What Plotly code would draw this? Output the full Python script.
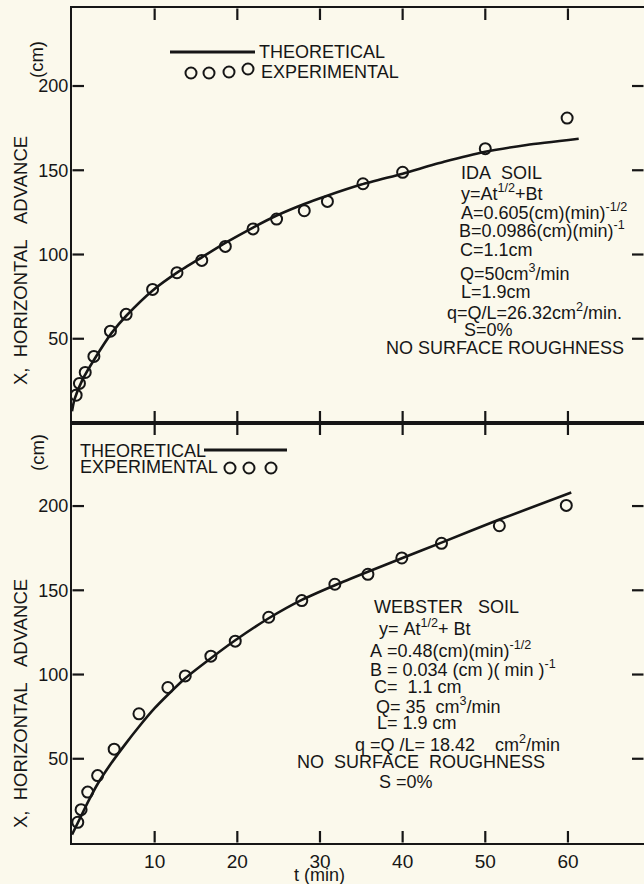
import plotly.graph_objects as go

# ---------------- data ----------------
# Top panel: IDA soil
ida_exp_t = [0.5, 0.9, 1.6, 2.65, 4.65, 6.55, 9.75, 12.7, 15.7, 18.55, 21.9, 24.75, 28.1, 30.9, 35.2, 40.0, 50.0, 59.9]
ida_exp_x = [16.5, 23.5, 30.0, 39.5, 54.5, 64.5, 79.3, 89.2, 96.5, 104.8, 115.2, 121.0, 126.0, 131.5, 142.0, 148.8, 162.8, 181.0]
ida_theo_t = [0, 0.3, 1.3, 2.8, 4.8, 6.6, 9.8, 12.8, 15.8, 18.6, 21.9, 24.7, 28.1, 30.7, 35.0, 40.0, 45.0, 50.0, 55.0, 61.3]
ida_theo_x = [7, 14, 26, 38.6, 53.5, 63.8, 78.8, 89.5, 98.6, 107, 116, 123, 130, 134.6, 141.5, 148, 155, 161, 165, 168.7]

# Bottom panel: WEBSTER soil
web_exp_t = [0.7, 1.1, 1.9, 3.1, 5.1, 8.1, 11.6, 13.7, 16.8, 19.75, 23.8, 27.8, 31.8, 35.8, 39.9, 44.7, 51.7, 59.8]
web_exp_x = [12.3, 19.8, 30.2, 40.0, 55.7, 76.7, 92.3, 99.2, 110.9, 119.8, 134.0, 143.9, 153.6, 159.5, 169.2, 177.9, 188.3, 200.4]
web_theo_t = [0, 1, 2, 3.1, 4.7, 6.5, 8.1, 10, 11.6, 13.7, 16.8, 19.8, 23.8, 27.8, 31.8, 35.8, 39.9, 44.7, 51.7, 60.4]
web_theo_x = [5, 15, 25, 35, 47, 59, 69, 80, 88, 97.8, 109.7, 120.5, 133.4, 144.3, 153, 161, 169, 178.3, 192, 208]

x_tick_vals = [10, 20, 30, 40, 50, 60]
x_tick_text = ["10", "20", "30", "40", "50", "60"]
y_tick_vals = [50, 100, 150, 200]
y_tick_text = ["50", "100", "150", "200"]

ida_notes = ["IDA\u00a0\u00a0SOIL", "y=At<sup>1/2</sup>+Bt", "A=0.605(cm)(min)<sup>-1/2</sup>",
             "B=0.0986(cm)(min)<sup>-1</sup>", "C=1.1cm", "Q=50cm<sup>3</sup>/min", "L=1.9cm",
             "q=Q/L=26.32cm<sup>2</sup>/min.", "S=0%", "NO SURFACE ROUGHNESS"]
web_notes = ["WEBSTER\u00a0\u00a0\u00a0SOIL", "y=\u00a0At<sup>1/2</sup>+\u00a0Bt", "A\u00a0=0.48(cm)(min)<sup>-1/2</sup>",
             "B\u00a0=\u00a00.034\u00a0(cm\u00a0)(\u00a0min\u00a0)<sup>-1</sup>", "C=\u00a0\u00a01.1\u00a0cm",
             "Q=\u00a035\u00a0\u00a0cm<sup>3</sup>/min", "L=\u00a01.9\u00a0cm",
             "q\u00a0=Q\u00a0/L=\u00a018.42\u00a0\u00a0\u00a0\u00a0cm<sup>2</sup>/min",
             "NO\u00a0\u00a0SURFACE\u00a0\u00a0ROUGHNESS", "S\u00a0=0%"]

# ---------------- layout geometry ----------------
W, H = 644, 884
ML, MR, MT, MB = 72, 0, 8, 41
PW, PH = W - ML - MR, H - MT - MB
X_RANGE = [0, 69.2]
Y_RANGE_TOP = [0, 246.3]
Y_RANGE_BOT = [0, 249.3]
SPLIT_PX = 423
TICK_LEN = 12  # pixels

def fx(px):
    return (px - ML) / PW

def fy(py):
    return 1 - (py - MT) / PH

INK = "#161616"
BG = "#FBF9EC"
FONT = "Liberation Sans"

top_dom = [fy(SPLIT_PX), 1]
bot_dom = [0, fy(SPLIT_PX)]

fig = go.Figure()

# ---------------- tick marks (inside, on all four sides), built from the tick lists ----------------
# each tick is its own short segment, drawn from just inside the frame toward the plot interior
x_per_px = (X_RANGE[1] - X_RANGE[0]) / PW
for xa, ya, yr, dom in [("x", "y", Y_RANGE_TOP, top_dom), ("x2", "y2", Y_RANGE_BOT, bot_dom)]:
    y_per_px = (yr[1] - yr[0]) / ((dom[1] - dom[0]) * PH)
    dy = TICK_LEN * y_per_px
    dx = TICK_LEN * x_per_px
    ey = 0.5 * y_per_px
    ex = 0.5 * x_per_px
    segs = []
    for v in x_tick_vals:
        segs.append(([v, v], [yr[0] + ey, yr[0] + dy]))
        segs.append(([v, v], [yr[1] - ey, yr[1] - dy]))
    for v in y_tick_vals:
        segs.append(([X_RANGE[0] + ex, X_RANGE[0] + dx], [v, v]))
        segs.append(([X_RANGE[1] - ex, X_RANGE[1] - dx], [v, v]))
    for sx, sy in segs:
        fig.add_trace(go.Scatter(x=sx, y=sy, xaxis=xa, yaxis=ya, mode="lines",
                                 line=dict(color=INK, width=2.2), showlegend=False, hoverinfo="skip"))

for tt, xx, ya, xa in [(ida_theo_t, ida_theo_x, "y", "x"), (web_theo_t, web_theo_x, "y2", "x2")]:
    fig.add_trace(go.Scatter(x=tt, y=xx, xaxis=xa, yaxis=ya, mode="lines",
                             line=dict(color=INK, width=2.6, shape="spline", smoothing=0.6),
                             showlegend=False, hoverinfo="skip"))
for tt, xx, ya, xa in [(ida_exp_t, ida_exp_x, "y", "x"), (web_exp_t, web_exp_x, "y2", "x2")]:
    fig.add_trace(go.Scatter(x=tt, y=xx, xaxis=xa, yaxis=ya, mode="markers",
                             marker=dict(symbol="circle-open", size=11, color=INK, line=dict(width=2)),
                             showlegend=False, hoverinfo="skip"))

xcommon = dict(range=X_RANGE, tickmode="array", tickvals=x_tick_vals, ticktext=x_tick_text,
               ticks="", showline=True, linecolor=INK, linewidth=2, mirror=True,
               showgrid=False, zeroline=False, domain=[0, 1])
ycommon = dict(tickmode="array", tickvals=y_tick_vals, ticktext=y_tick_text, ticks="",
               showgrid=False, zeroline=False, showline=True, linecolor=INK, linewidth=2, mirror=False,
               ticklabelstandoff=-2, tickfont=dict(family=FONT, size=18, color=INK))

fig.update_layout(
    width=W, height=H, margin=dict(l=ML, r=MR, t=MT, b=MB, pad=0),
    paper_bgcolor=BG, plot_bgcolor=BG, showlegend=False,
    font=dict(family=FONT, color=INK),
    xaxis=dict(**xcommon, anchor="y", showticklabels=False),
    xaxis2=dict(**xcommon, anchor="y2", showticklabels=True,
                tickfont=dict(family=FONT, size=19, color=INK)),
    yaxis=dict(**ycommon, range=Y_RANGE_TOP, domain=top_dom, anchor="x"),
    yaxis2=dict(**ycommon, range=Y_RANGE_BOT, domain=bot_dom, anchor="x2"),
)

annos = []

def note(text, px, py, size=18, xanchor="left", **kw):
    annos.append(dict(text=text, x=fx(px), y=fy(py), xref="paper", yref="paper", xanchor=xanchor,
                      yanchor="middle", showarrow=False, font=dict(family=FONT, size=size, color=INK), **kw))

# parameter blocks
ida_pos = [(459, 173), (459, 192), (459, 211), (457, 229), (458, 250), (458, 272), (459, 292),
           (445, 311), (462, 330), (384, 348)]
for txt, (px, py) in zip(ida_notes, ida_pos):
    note(txt, px, py)
web_pos = [(372, 607), (377, 627), (368, 649), (368, 668), (372, 687), (374, 705), (375, 723),
           (353, 743), (295, 762), (377, 782)]
for txt, (px, py) in zip(web_notes, web_pos):
    note(txt, px, py)

# axis titles
for cy_main, cy_cm in [(261, 60), (704, 453)]:
    note("X,\u00a0\u00a0HORIZONTAL\u00a0\u00a0\u00a0ADVANCE", 20, cy_main, size=18.5, xanchor="center", textangle=-90)
    note("(cm)", 37, cy_cm, size=18.5, xanchor="center", textangle=-90)
annos.append(dict(text="t (min)", x=30, y=fy(875), xref="x2", yref="paper", xanchor="center",
                  yanchor="middle", showarrow=False, font=dict(family=FONT, size=18, color=INK)))

# legend keys
note("THEORETICAL", 257, 52)
note("EXPERIMENTAL", 259, 72)
note("THEORETICAL", 78, 451)
note("EXPERIMENTAL", 78, 467)

shapes = []
def seg(x0, x1, py):
    shapes.append(dict(type="line", xref="paper", yref="paper", x0=fx(x0), x1=fx(x1), y0=fy(py), y1=fy(py),
                       line=dict(color=INK, width=3)))

def ring(cx, cy, r=5.5):
    shapes.append(dict(type="circle", xref="paper", yref="paper", x0=fx(cx - r), x1=fx(cx + r),
                       y0=fy(cy + r), y1=fy(cy - r), line=dict(color=INK, width=2)))

seg(170, 255, 52)
for cx, cy in [(191, 73), (209, 73), (229, 72), (248, 69)]:
    ring(cx, cy)
seg(204, 287, 450)
for cx, cy in [(230, 468), (249, 468), (271, 468)]:
    ring(cx, cy)

fig.update_layout(annotations=annos, shapes=shapes)
fig.write_html("out.html")
